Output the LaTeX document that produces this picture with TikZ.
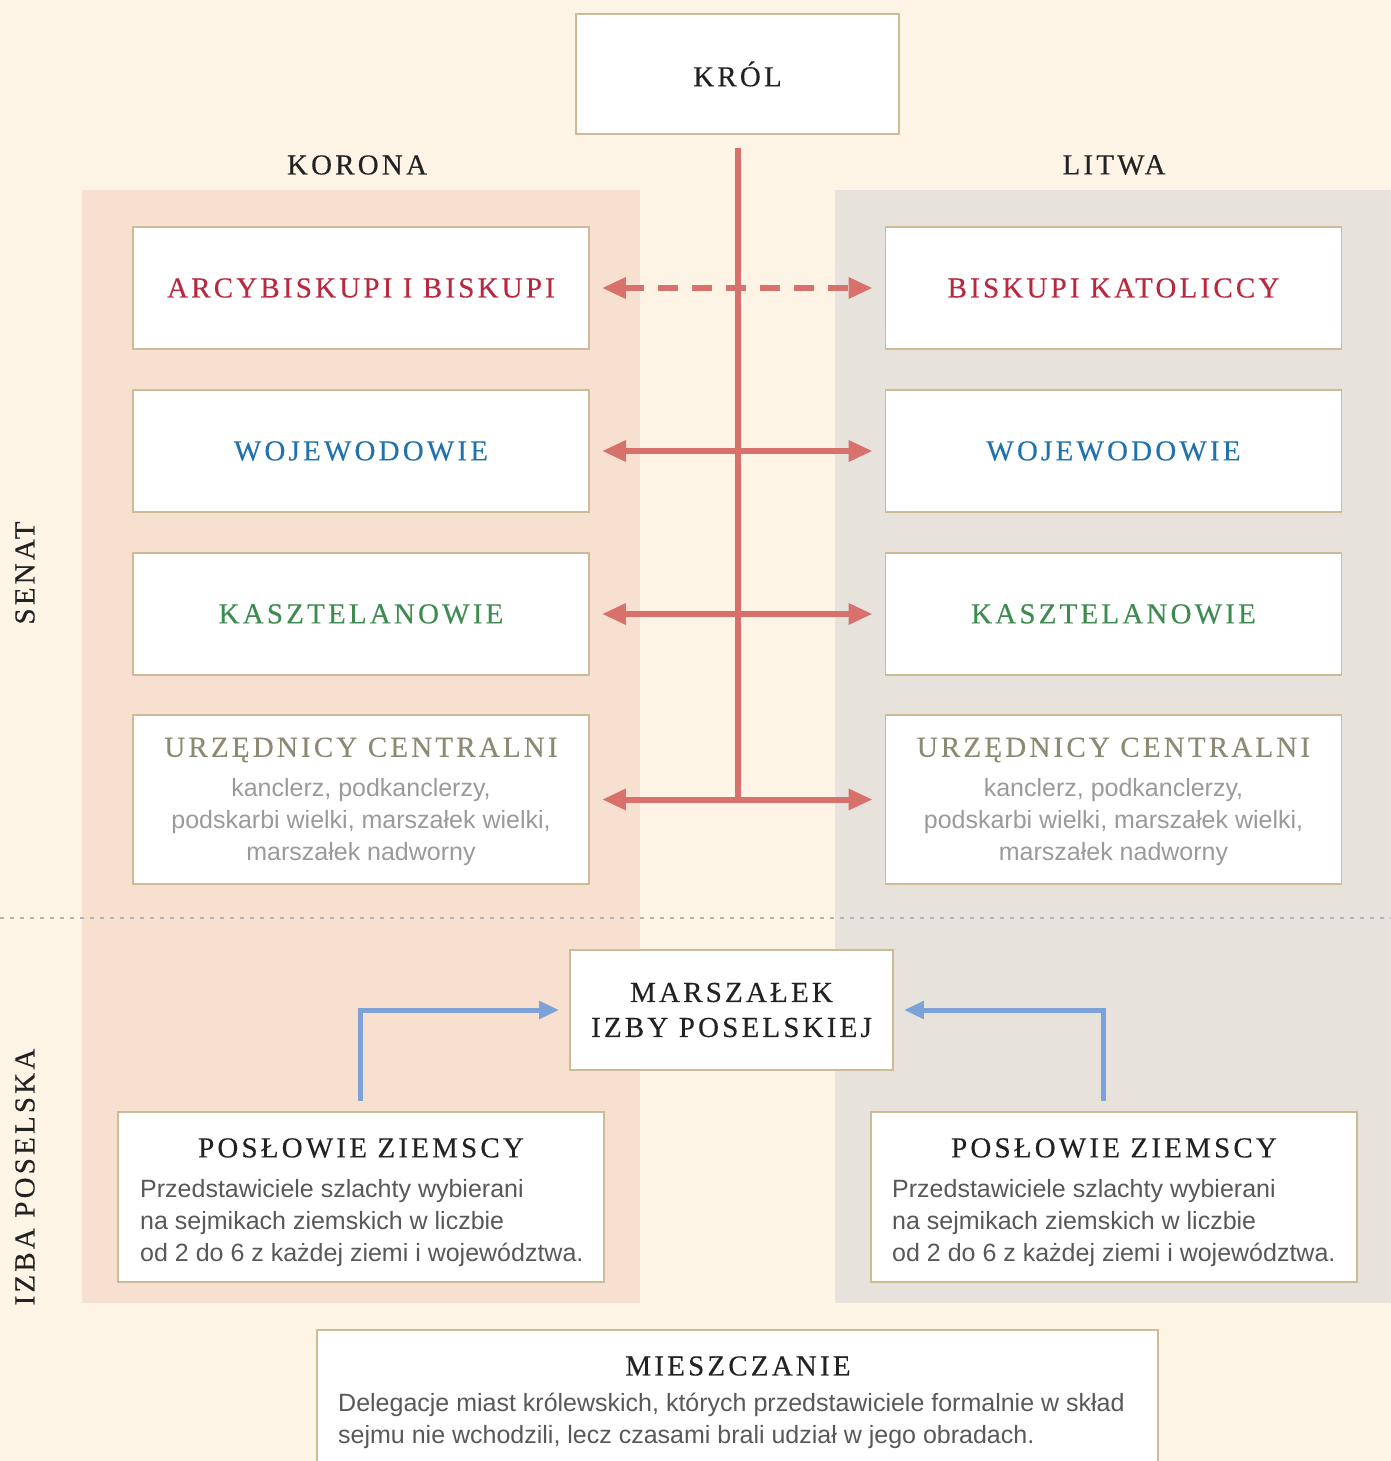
\documentclass[tikz,border=0pt]{standalone}
\usepackage{fontspec}
\setmainfont{Liberation Serif}
\newfontfamily\hfont[LetterSpace=11,FakeBold=0.3]{Liberation Serif}
\newfontfamily\bfont{Liberation Sans}
\usetikzlibrary{arrows.meta}
\definecolor{bgc}{HTML}{FDF4E6}
\definecolor{leftc}{HTML}{F7E0CF}
\definecolor{rightc}{HTML}{E7E2DC}
\definecolor{boxc}{HTML}{CDBB95}
\definecolor{redc}{HTML}{D8706C}
\definecolor{bluec}{HTML}{7CA2D8}
\definecolor{c1}{HTML}{B8283F}
\definecolor{c2}{HTML}{1F72AE}
\definecolor{c3}{HTML}{3E8B50}
\definecolor{c4}{HTML}{8C8A73}
\definecolor{headc}{HTML}{222222}
\definecolor{lgray}{HTML}{9A9A9A}
\definecolor{dgray}{HTML}{585858}
\begin{document}
\begin{tikzpicture}[x=1pt,y=-1pt,
  head/.style={font=\hfont\fontsize{29}{35}\selectfont, text=headc, inner sep=0pt},
  body/.style={font=\bfont\fontsize{25}{32}\selectfont, inner sep=0pt},
  box/.style={draw=boxc, line width=1.8pt, fill=white, inner sep=0pt},
  rowbox/.style={box, head, minimum width=456pt, minimum height=122pt},
  redarr/.style={draw=redc, line width=6pt, {Triangle[length=24pt,width=20pt]}-{Triangle[length=24pt,width=20pt]}, shorten <=12pt, shorten >=12pt},
  bluearr/.style={draw=bluec, line width=5pt, -{Triangle[length=20pt,width=17pt]}, shorten <=10pt, shorten >=10pt}
]
\useasboundingbox (0,0) rectangle (1391,1461);
\fill[bgc] (0,0) rectangle (1391,1461);
\fill[leftc] (82,190) rectangle (640,1303);
\fill[rightc] (835,190) rectangle (1391,1303);
\draw[gray!60, line width=1.5pt, dash pattern=on 4pt off 6pt] (0,918) -- (1391,918);

% side labels
\node[head, rotate=90] (senat) at (25,573) {SENAT};
\node[head, rotate=90] (izba) at (25,1177) {IZBA POSELSKA};
\node[head] (korona) at (357,165) {KORONA};
\node[head] (litwa) at (1114,165) {LITWA};

% king
\node[box, head, minimum width=323pt, minimum height=120pt] (K) at (737.5,74) {KRÓL};

% rows
\node[rowbox, text=c1] (L1) at (361,288) {ARCYBISKUPI I BISKUPI};
\node[rowbox, text=c1] (R1) at (1113.5,288) {BISKUPI KATOLICCY};
\node[rowbox, text=c2] (L2) at (361,451) {WOJEWODOWIE};
\node[rowbox, text=c2] (R2) at (1113.5,451) {WOJEWODOWIE};
\node[rowbox, text=c3] (L3) at (361,614) {KASZTELANOWIE};
\node[rowbox, text=c3] (R3) at (1113.5,614) {KASZTELANOWIE};
\node[box, minimum width=456pt, minimum height=169pt] (L4) at (361,799.5) {};
\node[box, minimum width=456pt, minimum height=169pt] (R4) at (1113.5,799.5) {};
\node[head, text=c4] (L4h) at (361,750) {URZĘDNICY CENTRALNI};
\node[head, text=c4] (R4h) at (1113.5,750) {URZĘDNICY CENTRALNI};
\node[body, text=lgray, align=center] (L4t) at (361,822) {kanclerz, podkanclerzy,\\podskarbi wielki, marszałek wielki,\\marszałek nadworny};
\node[body, text=lgray, align=center] (R4t) at (1113.5,822) {kanclerz, podkanclerzy,\\podskarbi wielki, marszałek wielki,\\marszałek nadworny};

% connectors senate
\draw[draw=redc, line width=6pt, shorten <=13pt] (K.south) -- (K.south |- L4.east);
\draw[redarr, dash pattern=on 20pt off 14pt] (L1.east) -- (R1.west);
\draw[redarr] (L2.east) -- (R2.west);
\draw[redarr] (L3.east) -- (R3.west);
\draw[redarr] (L4.east) -- (R4.west);

% chamber
\node[box, head, align=center, minimum width=323pt, minimum height=120pt] (M) at (731.5,1010) {MARSZAŁEK\\IZBY POSELSKIEJ};
\node[box, minimum width=486pt, minimum height=170pt] (PL) at (361,1197) {};
\node[box, minimum width=486pt, minimum height=170pt] (PR) at (1114,1197) {};
\node[head] (PLh) at (361,1148) {POSŁOWIE ZIEMSCY};
\node[head] (PRh) at (1114,1148) {POSŁOWIE ZIEMSCY};
\node[body, text=dgray, align=left, anchor=north west] (PLt) at (140,1179) {Przedstawiciele szlachty wybierani\\na sejmikach ziemskich w liczbie\\od 2 do 6 z każdej ziemi i województwa.};
\node[body, text=dgray, align=left, anchor=north west] (PRt) at (892,1179) {Przedstawiciele szlachty wybierani\\na sejmikach ziemskich w liczbie\\od 2 do 6 z każdej ziemi i województwa.};
\draw[bluearr] ([xshift=-1pt]PL.north) |- (M.west);
\draw[bluearr] ([xshift=-11pt]PR.north) |- (M.east);

% burghers
\node[box, minimum width=841pt, minimum height=180pt, anchor=north] (MZ) at (737.5,1329) {};
\node[head] (MZh) at (738,1366) {MIESZCZANIE};
\node[body, text=dgray, align=left, anchor=north west] (MZt) at (338,1393) {Delegacje miast królewskich, których przedstawiciele formalnie w skład\\sejmu nie wchodzili, lecz czasami brali udział w jego obradach.};
\end{tikzpicture}
\end{document}
